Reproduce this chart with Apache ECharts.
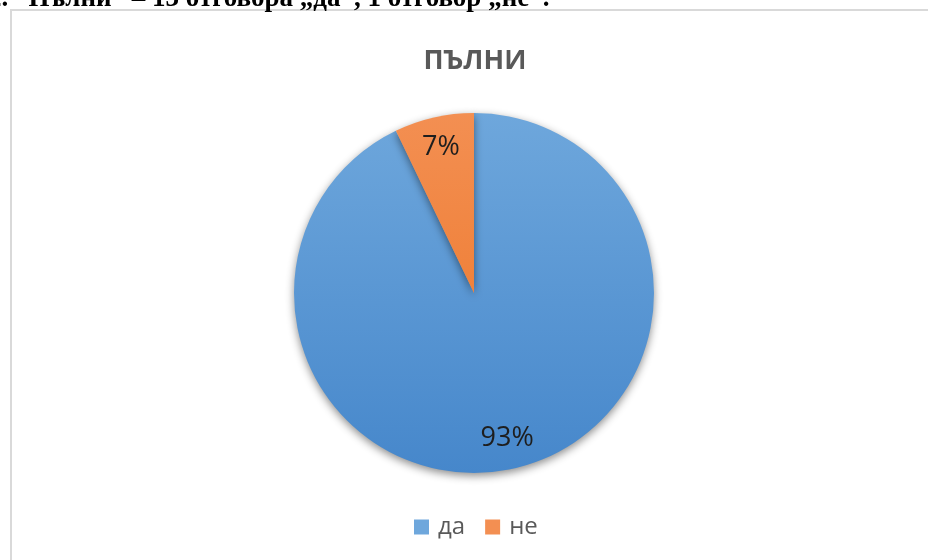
<!DOCTYPE html>
<html>
<head>
<meta charset="utf-8">
<script src="https://cdn.jsdelivr.net/npm/echarts@6/dist/echarts.min.js"></script>
<style>
html,body{margin:0;padding:0;background:#fff;}
#chart{width:928px;height:560px;}
</style>
</head>
<body>
<div id="chart"></div>
<script>
const headingText = '2. “Пълни” – 13 отговора „да“, 1 отговор „не“.';
const chartTitle = 'ПЪЛНИ';
const categories = ['да', 'не'];
const answerCounts = [13, 1];
const sliceColors = [
  ['#6ea7dc', '#4687cb'],
  ['#f38f52', '#ec7424']
];

const chart = echarts.init(document.getElementById('chart'), null, {renderer: 'canvas'});
const pieCenter = [474, 293];
const pieR = 180;

const pieData = categories.map((c, i) => ({
  name: c,
  value: answerCounts[i],
  itemStyle: {
    color: {
      type: 'linear', global: true,
      x: 0, y: pieCenter[1] - pieR, x2: 0, y2: pieCenter[1] + pieR,
      colorStops: [{offset: 0, color: sliceColors[i][0]}, {offset: 1, color: sliceColors[i][1]}]
    }
  }
}));
const labelData = categories.map((c, i) => ({name: c, value: answerCounts[i]}));

chart.setOption({
  animation: false,
  backgroundColor: '#ffffff',
  color: sliceColors.map(s => s[1]),
  title: {
    text: chartTitle,
    left: 470,
    textAlign: 'center',
    top: 43,
    textStyle: {fontFamily: 'Open Sans', fontWeight: 'bold', fontSize: 27, color: '#595959'}
  },
  legend: {
    top: 510,
    left: 409,
    itemWidth: 15,
    itemHeight: 15,
    itemGap: 20,
    icon: 'rect',
    data: categories,
    textStyle: {fontFamily: 'Open Sans', fontSize: 24, color: '#595959', padding: [0, 0, 0, 4]}
  },
  graphic: [
    {
      type: 'rect',
      shape: {x: 11, y: 10, width: 1000, height: 1000},
      style: {fill: 'none', stroke: '#d9d9d9', lineWidth: 2},
      silent: true, z: -1
    },
    {
      type: 'text',
      x: -12, y: 13,
      style: {
        text: headingText,
        font: 'bold 27px "Liberation Serif"',
        fill: '#000',
        verticalAlign: 'bottom'
      },
      silent: true
    }
  ],
  series: [
    {
      type: 'pie',
      center: pieCenter,
      radius: [0, pieR],
      startAngle: 90,
      clockwise: true,
      label: {show: false},
      labelLine: {show: false},
      itemStyle: {shadowBlur: 8, shadowOffsetY: 3, shadowColor: 'rgba(0,0,0,0.45)'},
      emphasis: {disabled: true},
      data: pieData
    },
    {
      type: 'pie',
      center: pieCenter,
      radius: [112, pieR],
      startAngle: 90,
      clockwise: true,
      percentPrecision: 0,
      silent: true,
      itemStyle: {color: 'rgba(0,0,0,0)'},
      label: {
        show: true,
        position: 'inside',
        formatter: '{d}%',
        fontFamily: 'Open Sans',
        fontSize: 27,
        color: '#1e1e1e'
      },
      labelLine: {show: false},
      emphasis: {disabled: true},
      data: labelData,
      z: 3
    }
  ]
});
</script>
</body>
</html>
